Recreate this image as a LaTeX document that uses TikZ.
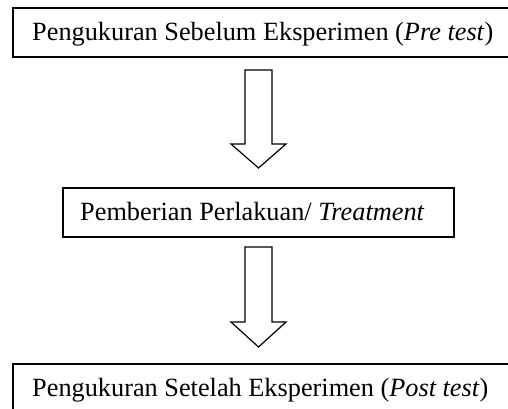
\documentclass[tikz,border=0pt]{standalone}
\usepackage{fontspec}
\setmainfont{Liberation Serif}
\begin{document}
\begin{tikzpicture}[x=1pt,y=-1pt,
  boxline/.style={draw=black,line width=1.6pt},
  blockarrow/.style={draw=black,line width=1.2pt,line join=miter,fill=white},
  lbl/.style={anchor=base west,inner sep=0pt,font=\fontsize{26.3}{31}\selectfont}]
\useasboundingbox (0,0) rectangle (508,409);
\clip (0,0) rectangle (508,409);
% boxes
\draw[boxline] (13,8) rectangle (560,57);
\draw[boxline] (63,188) rectangle (454,237);
\draw[boxline] (13,364) rectangle (560,440);
% texts
\node[lbl] (pre) at (32,41) {Pengukuran Sebelum Eksperimen (\textit{Pre test})};
\node[lbl] (treat) at (80,220.5) {Pemberian Perlakuan/ \textit{Treatment}};
\node[lbl] (post) at (32,396) {Pengukuran Setelah Eksperimen (\textit{Post test})};
% arrows
\draw[blockarrow] (245,70) -- (272,70) -- (272,144) -- (286,144) -- (258.5,168)
  -- (231,144) -- (245,144) -- cycle;
\draw[blockarrow] (245,247) -- (272,247) -- (272,322) -- (286,322) -- (258.5,347)
  -- (231,322) -- (245,322) -- cycle;
\end{tikzpicture}
\end{document}
